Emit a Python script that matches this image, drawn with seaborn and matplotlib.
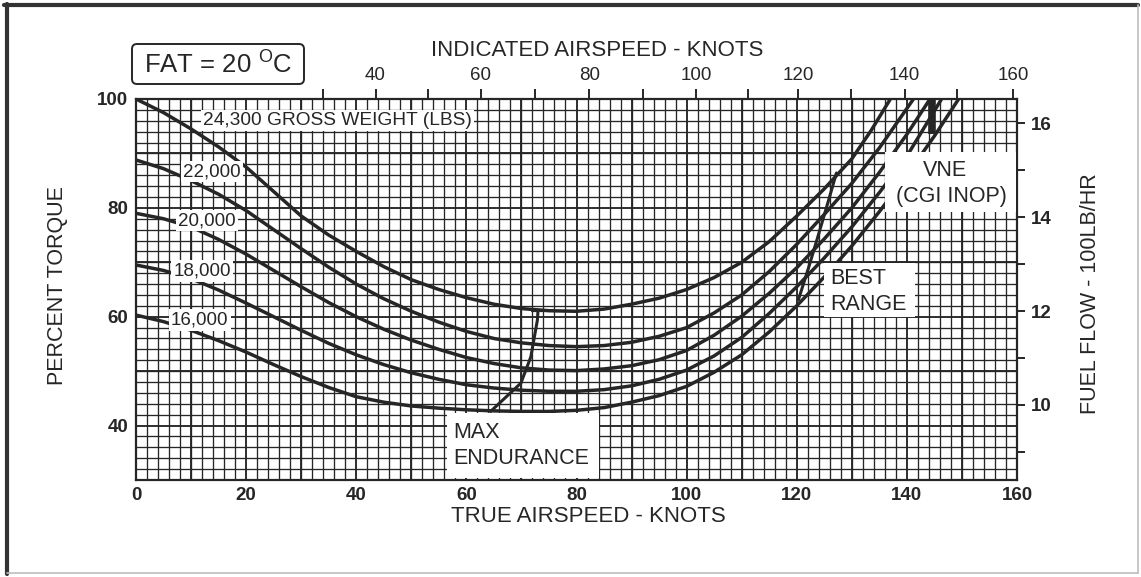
import numpy as np
import pandas as pd
import matplotlib
matplotlib.use("Agg")
import matplotlib.pyplot as plt
import seaborn as sns
from matplotlib.patches import Rectangle, FancyBboxPatch
from matplotlib.lines import Line2D

# ---- cruise power curves: true airspeed (knots) vs percent torque ----
weight_labels = ["24,300", "22,000", "20,000", "18,000", "16,000"]

tas_24300 = [0, 5, 10, 15, 20, 25, 30, 35, 40, 45, 50, 55, 60, 65, 70, 75, 80, 85, 90,
             95, 100, 105, 110, 115, 120, 125, 130, 133.5, 137]
tq_24300 = [100, 97.5, 94.5, 91.2, 87.5, 83, 78.5, 75, 72, 69.2, 66.8, 65, 63.5, 62.3,
            61.5, 61.1, 61, 61.4, 62.3, 63.4, 65, 67.2, 70, 73.8, 78.5, 83.5, 89, 94.2, 100]

tas_22000 = [0, 5, 10, 15, 20, 25, 30, 35, 40, 45, 50, 55, 60, 65, 70, 75, 80, 85, 90,
             95, 100, 105, 110, 115, 120, 125, 130, 135, 141.2]
tq_22000 = [88.8, 87.2, 85, 82.5, 79.5, 76, 72.5, 69.1, 66, 63.3, 61, 59, 57.3, 56, 55.2,
            54.7, 54.5, 54.7, 55.3, 56.4, 58, 60.7, 64, 68.3, 73.3, 78.8, 84.5, 91, 100]

tas_20000 = [0, 5, 10, 15, 20, 25, 30, 35, 40, 45, 50, 55, 60, 65, 70, 75, 80, 85, 90,
             95, 100, 105, 110, 115, 120, 125, 130, 135, 140, 144.2]
tq_20000 = [79, 78, 76.5, 74.2, 71.5, 68.5, 65.5, 62.6, 60, 57.7, 55.7, 54, 52.5, 51.4,
            50.6, 50.2, 50.1, 50.4, 51, 52.1, 53.8, 56.6, 60.1, 64.3, 69, 74.3, 80, 86.5,
            93.5, 100]

tas_18000 = [0, 5, 10, 15, 20, 25, 30, 35, 40, 45, 50, 55, 60, 65, 70, 75, 80, 85, 90,
             95, 100, 105, 110, 115, 120, 125, 130, 135, 140, 146.3]
tq_18000 = [69.5, 68.5, 67, 64.9, 62.5, 60, 57.5, 55.1, 53, 51.2, 49.7, 48.5, 47.5, 46.9,
            46.5, 46.3, 46.3, 46.6, 47.3, 48.5, 50.2, 52.8, 56.2, 60.6, 65.5, 70.8, 76.5,
            82.8, 89.5, 100]

tas_16000 = [0, 5, 10, 15, 20, 25, 30, 35, 40, 45, 50, 55, 60, 65, 70, 75, 80, 85, 90,
             95, 100, 105, 110, 115, 120, 125, 130, 135, 140, 145, 149.4]
tq_16000 = [60.3, 59.1, 57.5, 55.6, 53.5, 51.2, 49, 47, 45.3, 44.3, 43.6, 43.2, 42.9,
            42.7, 42.6, 42.6, 42.8, 43.3, 44.3, 45.5, 47.2, 49.8, 53, 57.2, 62, 67.3, 73,
            79.3, 86, 93.2, 100]

# reference lines
max_end_tas = [64.4, 69.9, 71.7, 72.9, 73.0]
max_end_tq = [42.6, 47.8, 52.6, 59.4, 61.0]
best_range_tas = [120.3, 122.3, 124.1, 125.9, 127.2]
best_range_tq = [63.1, 69.5, 75.6, 81.8, 86.4]
vne_tas = [144.6, 144.6]
vne_tq = [93.5, 100]

# indicated airspeed scale (top) and where each value sits on the true airspeed scale
ias_ticks = [30, 40, 50, 60, 70, 80, 90, 100, 110, 120, 130, 140, 150, 160]
ias_at_tas = [33.9, 43.5, 53.1, 62.6, 72.4, 82.3, 92.1, 101.7, 111.2, 120.3, 129.8, 139.6, 149.1, 159.3]

# fuel flow scale (right), 100 lb/hr
ff_ticks = [9, 10, 11, 12, 13, 14, 15, 16]
ff_limits = (8.40, 16.52)

torque_ticks = [40, 60, 80, 100]
tas_ticks = [0, 20, 40, 60, 80, 100, 120, 140, 160]

# ---------------------------------------------------------------------
sns.set_theme(style="white")
plt.rcParams["font.family"] = ["Liberation Sans", "DejaVu Sans"]
plt.rcParams["mathtext.fontset"] = "custom"
plt.rcParams["mathtext.rm"] = "Liberation Sans"

INK = "#262626"
W, H = 1141, 577
fig = plt.figure(figsize=(W / 100, H / 100), dpi=100, facecolor="white")

L, R, T, B = 136, 1017, 99, 480
ax = fig.add_axes([L / W, 1 - B / H, (R - L) / W, (B - T) / H])
ax.set_facecolor("white")

rows = []
for lab, xs, ys in [
    ("24,300", tas_24300, tq_24300),
    ("22,000", tas_22000, tq_22000),
    ("20,000", tas_20000, tq_20000),
    ("18,000", tas_18000, tq_18000),
    ("16,000", tas_16000, tq_16000),
]:
    for x, y in zip(xs, ys):
        rows.append({"weight": lab, "tas": x, "torque": y})
curves = pd.DataFrame(rows)

sns.lineplot(data=curves, x="tas", y="torque", hue="weight", hue_order=weight_labels,
             palette=[INK] * 5, estimator=None, sort=True, legend=False,
             lw=2.5, ax=ax, zorder=4)

refs = pd.DataFrame(
    [{"line": "max", "tas": x, "torque": y} for x, y in zip(max_end_tas, max_end_tq)]
    + [{"line": "best", "tas": x, "torque": y} for x, y in zip(best_range_tas, best_range_tq)]
)
sns.lineplot(data=refs, x="tas", y="torque", hue="line", palette=[INK, INK],
             estimator=None, sort=False, legend=False, lw=2.2, ax=ax, zorder=4)
# small bar capping the max endurance line
ax.plot([max_end_tas[-1] - 1.0, max_end_tas[-1] + 1.0], [max_end_tq[-1]] * 2,
        color=INK, lw=1.6, zorder=4)
# VNE mark
ax.plot(vne_tas, vne_tq, color=INK, lw=5.5, solid_capstyle="butt", zorder=4)

ax.set_xlim(0, 160)
ax.set_ylim(30, 100)

# chart grid: fine every 2 units, heavier every 10
ax.set_xticks(np.arange(0, 161, 2), minor=True)
ax.set_yticks(np.arange(30, 101, 2), minor=True)
ax.grid(which="minor", color=INK, lw=0.95, zorder=1)
ax.vlines(np.arange(10, 160, 10), 30, 100, color=INK, lw=1.35, zorder=1)
ax.hlines(np.arange(40, 100, 10), 0, 160, color=INK, lw=1.35, zorder=1)

ax.set_xticks(tas_ticks)
ax.set_yticks(torque_ticks)
ax.set_xticklabels([str(v) for v in tas_ticks], fontweight="bold")
ax.set_yticklabels([str(v) for v in torque_ticks], fontweight="bold")
ax.tick_params(axis="both", which="both", length=0, labelsize=13.5, colors=INK)
ax.tick_params(axis="x", pad=5)
ax.tick_params(axis="y", pad=5.5)
ax.set_xlabel("")
ax.set_ylabel("")
for s in ax.spines.values():
    s.set_color(INK)
    s.set_linewidth(1.6)

# top: indicated airspeed
axt = ax.twiny()
axt.set_xlim(0, 160)
axt.set_xticks(ias_at_tas)
axt.set_xticklabels([str(v) if v % 20 == 0 else "" for v in ias_ticks])
axt.tick_params(axis="x", direction="out", length=7.5, width=1.4, pad=3,
                labelsize=13.5, colors=INK)
for s in axt.spines.values():
    s.set_visible(False)

# right: fuel flow
axr = ax.twinx()
axr.set_ylim(*ff_limits)
axr.set_yticks(ff_ticks)
axr.set_yticklabels([str(v) if v % 2 == 0 else "" for v in ff_ticks], fontweight="bold")
axr.tick_params(axis="y", direction="out", length=6, width=1.4, pad=4,
                labelsize=13.5, colors=INK)
for s in axr.spines.values():
    s.set_visible(False)

# ---- labels on the chart ----
lab_box = dict(facecolor="white", edgecolor="none", pad=1.5)
ax.text(12.2, 96.0, "24,300 GROSS WEIGHT (LBS)", fontsize=13.8, color=INK,
        ha="left", va="center", bbox=lab_box, zorder=6)
for (x, y), txt in zip([(13.8, 86.6), (12.9, 77.6), (12.0, 68.4), (11.6, 59.4)],
                       weight_labels[1:]):
    ax.text(x, y, txt, fontsize=13.5, color=INK, ha="center", va="center",
            bbox=lab_box, zorder=6)

# white panels carrying the reference-line names
for x0, y0, x1, y1 in [(56.5, 30.3, 84.1, 42.3), (124.9, 59.9, 141.4, 69.9),
                       (136.1, 79.2, 159.9, 90.3)]:
    ax.add_patch(Rectangle((x0, y0), x1 - x0, y1 - y0, facecolor="white",
                           edgecolor="none", zorder=5))
ax.text(57.7, 38.7, "MAX", fontsize=15.5, color=INK, va="center", zorder=6)
ax.text(57.7, 34.0, "ENDURANCE", fontsize=15.5, color=INK, va="center", zorder=6)
ax.text(126.0, 67.1, "BEST", fontsize=15.5, color=INK, va="center", zorder=6)
ax.text(126.0, 62.2, "RANGE", fontsize=15.5, color=INK, va="center", zorder=6)
ax.text(147.0, 86.8, "VNE", fontsize=15.5, color=INK, ha="center", va="center", zorder=6)
ax.text(138.1, 82.0, "(CGI INOP)", fontsize=15.5, color=INK, va="center", zorder=6)

# ---- axis titles ----
fig.text(597 / W, 1 - 51 / H, "INDICATED AIRSPEED - KNOTS", fontsize=16, color=INK,
         ha="center", va="center")
fig.text(588 / W, 1 - 517 / H, "TRUE AIRSPEED - KNOTS", fontsize=16, color=INK,
         ha="center", va="center")
fig.text(58 / W, 1 - 286 / H, "PERCENT TORQUE", fontsize=15.5, color=INK,
         rotation=90, ha="center", va="center")
fig.text(1090 / W, 1 - 294 / H, "FUEL FLOW - 100LB/HR", fontsize=15.5, color=INK,
         rotation=90, ha="center", va="center")

# ambient temperature tag
fig.add_artist(FancyBboxPatch((132 / 100, (H - 84) / 100), 172 / 100, 40 / 100,
                              boxstyle="round,pad=0,rounding_size=0.05",
                              transform=fig.dpi_scale_trans, facecolor="white",
                              edgecolor=INK, lw=1.4))
fig.text(218 / W, 1 - 64 / H, r"FAT = 20 $^{\mathrm{O}}$C", fontsize=18.5, color=INK,
         ha="center", va="center")

# page frame
fig.add_artist(Line2D([4 / W, 1138 / W], [1 - 5 / H] * 2, color="#333333", lw=3.0,
                      transform=fig.transFigure))
fig.add_artist(Line2D([7 / W] * 2, [1 - 4 / H, 1 - 574 / H], color="#333333", lw=3.0,
                      transform=fig.transFigure))
fig.add_artist(Line2D([7 / W, 1138 / W], [1 - 573 / H] * 2, color="#bdbdbd", lw=1.2,
                      transform=fig.transFigure))
fig.add_artist(Line2D([1137.5 / W] * 2, [1 - 5 / H, 1 - 573 / H], color="#bdbdbd", lw=1.2,
                      transform=fig.transFigure))

fig.savefig("out.png", dpi=100, facecolor="white")
